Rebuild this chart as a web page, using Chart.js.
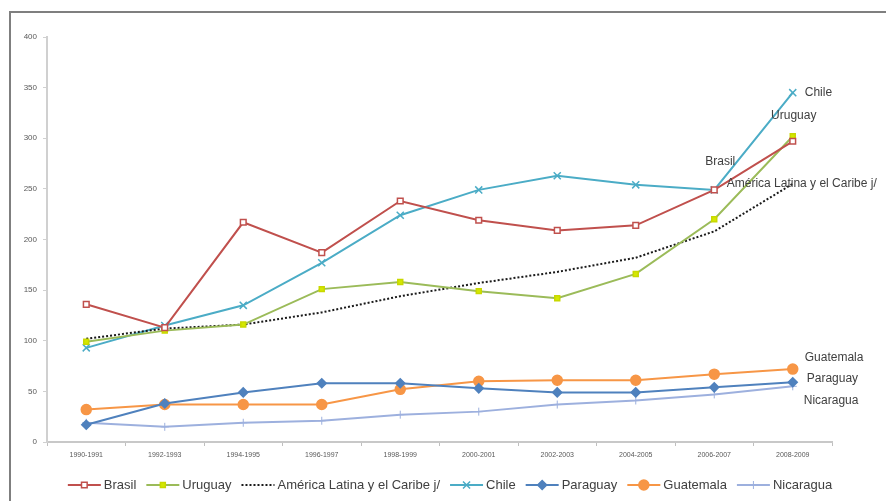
<!DOCTYPE html>
<html><head><meta charset="utf-8">
<script src="https://cdn.jsdelivr.net/npm/chart.js@4.4.1/dist/chart.umd.min.js"></script>
<style>
html,body{margin:0;padding:0;background:#fff;}
#wrap{position:relative;width:886px;height:501px;overflow:hidden;background:#fff;}
#frame{position:absolute;left:9px;top:11px;width:900px;height:520px;border-left:2px solid #7f7f7f;border-top:2px solid #7f7f7f;}
canvas{position:absolute;left:0;top:0;}
</style></head><body>
<div id="wrap"><div id="frame"></div><canvas id="c" width="886" height="501"></canvas></div>
<script>
const categories = ["1990-1991","1992-1993","1994-1995","1996-1997","1998-1999","2000-2001","2002-2003","2004-2005","2006-2007","2008-2009"];
const yTicks = [0,50,100,150,200,250,300,350,400];
const brasil    = [136,113,217,187,238,219,209,214,249,297];
const uruguay   = [99,110,116,151,158,149,142,166,220,302];
const americaLatina = [102,112,116,128,144,157,168,182,208,255];
const chile     = [93,115,135,177,224,249,263,254,249,345];
const paraguay  = [17,38,49,58,58,53,49,49,54,59];
const guatemala = [32,37,37,37,52,60,61,61,67,72];
const nicaragua = [19,15,19,21,27,30,37,41,47,55];
const seriesNames = ["Brasil","Uruguay","América Latina y el Caribe j/","Chile","Paraguay","Guatemala","Nicaragua"];

const FONT = "'Liberation Sans', Arial, sans-serif";

const endLabels = [
  {ds:0, idx:8, dx:6,  dy:-28, align:'center'},
  {ds:1, idx:9, dx:1,  dy:-21, align:'center'},
  {ds:2, idx:9, dx:9,  dy:0,   align:'center'},
  {ds:3, idx:9, dx:12, dy:0,   align:'left'},
  {ds:4, idx:9, dx:14, dy:-4,  align:'left'},
  {ds:5, idx:9, dx:12, dy:-11, align:'left'},
  {ds:6, idx:9, dx:11, dy:14,  align:'left'}
];

const labelPlugin = {
  id:'endLabels',
  afterDatasetsDraw(chart){
    const ctx = chart.ctx;
    ctx.save();
    ctx.font = "12px " + FONT;
    ctx.fillStyle = "#404040";
    ctx.textBaseline = 'middle';
    endLabels.forEach(l=>{
      const pt = chart.getDatasetMeta(l.ds).data[l.idx];
      ctx.textAlign = l.align;
      ctx.fillText(chart.data.datasets[l.ds].label, pt.x + l.dx, pt.y + l.dy);
    });
    ctx.restore();
  }
};

const legendPlugin = {
  id:'customLegend',
  afterDraw(chart){
    const ctx = chart.ctx;
    ctx.save();
    ctx.font = "13px " + FONT;
    const lineLen = 33, gapText = 3, gapItem = 10;
    const ds = chart.data.datasets;
    let total = 0;
    ds.forEach((d,i)=>{ total += lineLen + gapText + ctx.measureText(d.label).width + (i<ds.length-1?gapItem:0); });
    let x = 450 - total/2;
    const y = 485;
    ds.forEach(d=>{
      ctx.save();
      ctx.strokeStyle = d.borderColor;
      ctx.lineWidth = d.borderWidth;
      ctx.setLineDash(d.borderDash || []);
      ctx.beginPath(); ctx.moveTo(x, y); ctx.lineTo(x+lineLen, y); ctx.stroke();
      ctx.setLineDash([]);
      if (d.pointRadius > 0) {
        ctx.fillStyle = d.pointBackgroundColor;
        ctx.strokeStyle = d.pointBorderColor;
        ctx.lineWidth = d.pointBorderWidth;
        Chart.helpers.drawPoint(ctx, {pointStyle:d.pointStyle, radius:d.pointRadius, borderWidth:d.pointBorderWidth, rotation:0}, x+lineLen/2, y);
      }
      ctx.restore();
      ctx.fillStyle = "#404040";
      ctx.textBaseline = 'middle';
      ctx.textAlign = 'left';
      ctx.fillText(d.label, x+lineLen+gapText, y);
      x += lineLen + gapText + ctx.measureText(d.label).width + gapItem;
    });
    ctx.restore();
  }
};

function mk(label, data, color, style, radius, fill, extra){
  return Object.assign({
    label, data, borderColor:color, backgroundColor:color, borderWidth:2,
    pointStyle:style, pointRadius:radius, pointHoverRadius:radius,
    pointBackgroundColor:fill, pointBorderColor:color, pointBorderWidth:1.5,
    tension:0, fill:false
  }, extra||{});
}

new Chart(document.getElementById('c'), {
  type:'line',
  data:{
    labels:categories,
    datasets:[
      mk(seriesNames[0], brasil, '#C0504D', 'rect', 4, '#ffffff'),
      mk(seriesNames[1], uruguay, '#9BBB59', 'rect', 3.5, '#D4E800', {pointBorderColor:'#C8D800'}),
      mk(seriesNames[2], americaLatina, '#1a1a1a', 'circle', 0, '#1a1a1a', {borderDash:[2,2], borderWidth:2}),
      mk(seriesNames[3], chile, '#4BACC6', 'crossRot', 5, '#4BACC6', {pointBorderWidth:1.5}),
      mk(seriesNames[4], paraguay, '#4F81BD', 'rectRot', 4.5, '#4F81BD'),
      mk(seriesNames[5], guatemala, '#F79646', 'circle', 5, '#F79646'),
      mk(seriesNames[6], nicaragua, '#9DB0DE', 'cross', 4, '#9DB0DE', {pointBorderWidth:1})
    ]
  },
  options:{
    responsive:false, animation:false, devicePixelRatio:1,
    layout:{padding:{left:10, right:54, top:37, bottom:34}},
    plugins:{legend:{display:false}, tooltip:{enabled:false}},
    scales:{
      x:{
        offset:true,
        grid:{display:true, drawOnChartArea:false, drawTicks:true, tickLength:4, color:'#bfbfbf', offset:true},
        border:{display:true, color:'#c8c8c8', width:2},
        ticks:{font:{family:FONT, size:7}, color:'#595959', padding:5, maxRotation:0, autoSkip:false},
        afterFit(s){ s.height = 25; }
      },
      y:{
        min:0, max:400,
        afterBuildTicks(s){ s.ticks = yTicks.map(v=>({value:v})); },
        grid:{display:true, drawOnChartArea:false, drawTicks:true, tickLength:4, color:'#d0d0d0'},
        border:{display:true, color:'#d0d0d0', width:2},
        ticks:{font:{family:FONT, size:8}, color:'#595959', padding:6},
        afterFit(s){ s.width = 37; }
      }
    }
  },
  plugins:[labelPlugin, legendPlugin]
});
</script>
</body></html>
